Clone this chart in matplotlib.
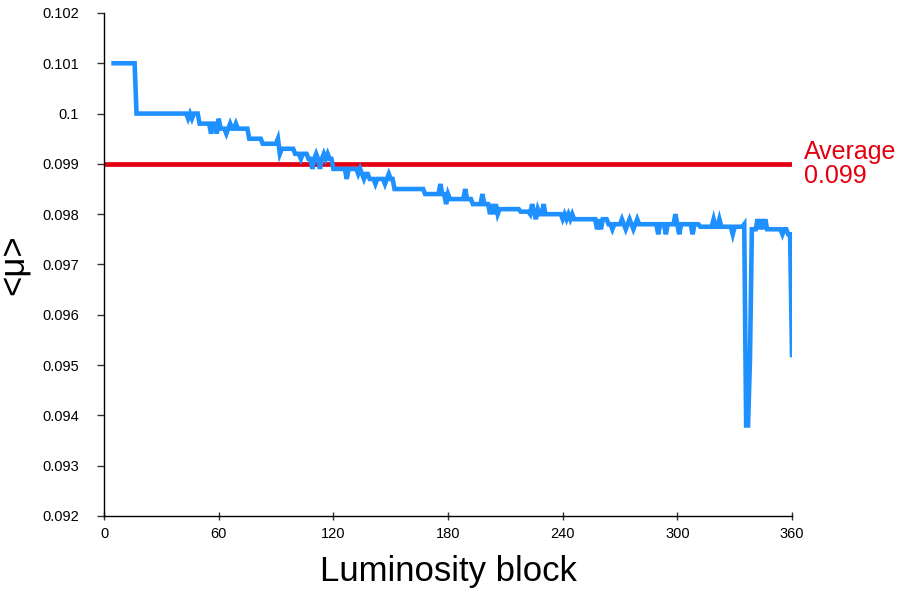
import matplotlib.pyplot as plt
import matplotlib.transforms as mtransforms
import numpy as np

plt.rcParams['font.family'] = ['Liberation Sans', 'DejaVu Sans']

# step levels of <mu> per luminosity block: (first block of the level, value)
level_start = [5, 17, 50, 61, 76, 83, 93, 100, 107, 120, 133, 139, 152, 168, 181,
               193, 207, 218, 228, 246, 264, 312, 339, 358, 360]
level_value = [0.1010, 0.1000, 0.0998, 0.0997, 0.0995, 0.0994, 0.0993, 0.0992, 0.0991,
               0.0989, 0.0988, 0.0987, 0.0985, 0.0984, 0.0983, 0.0982, 0.0981, 0.09805,
               0.0980, 0.0979, 0.0978, 0.09775, 0.0977, 0.0976, 0.0952]

# single blocks that stick out of their level
spike_block = [44, 46, 56, 59, 60, 64, 66, 69, 91, 92, 103, 109, 111, 113, 115, 117,
               127, 134, 136, 142, 147, 149, 176, 179, 189, 198, 202, 204, 206,
               223, 224, 226, 227, 230, 240, 242, 244, 258, 260, 266, 271, 273,
               275, 277, 279, 290, 292, 294, 296, 299, 301, 308, 319, 322, 329,
               335, 336, 337, 338, 342, 344, 346, 355]
spike_value = [0.0999, 0.0999, 0.0996, 0.0996, 0.0999, 0.0996, 0.0998, 0.0998, 0.0995,
               0.0992, 0.0991, 0.0989, 0.0992, 0.0989, 0.0992, 0.0992,
               0.0987, 0.0989, 0.0987, 0.0986, 0.0986, 0.0988, 0.0986, 0.0982, 0.0985,
               0.0984, 0.0980, 0.0980, 0.0980,
               0.0980, 0.0982, 0.0979, 0.0981, 0.0982, 0.0979, 0.0979, 0.0979, 0.0977,
               0.0977, 0.0977, 0.0979, 0.0977, 0.0979, 0.0977, 0.0979, 0.0976, 0.0978,
               0.0976, 0.0978, 0.0980, 0.0976, 0.0976, 0.0979, 0.0979, 0.0976,
               0.0978, 0.0938, 0.0938, 0.0951, 0.0979, 0.0979, 0.0979, 0.0976]

average = 0.099
x_ticks = [0, 60, 120, 180, 240, 300, 360]
y_ticks = [0.092, 0.093, 0.094, 0.095, 0.096, 0.097, 0.098, 0.099, 0.1, 0.101, 0.102]
y_tick_labels = ['0.092', '0.093', '0.094', '0.095', '0.096', '0.097', '0.098',
                 '0.099', '0.1', '0.101', '0.102']

# expand the levels into one value per block
blocks = np.arange(level_start[0], level_start[-1] + 1)
mu = np.empty(len(blocks))
for i, s in enumerate(level_start):
    mu[blocks >= s] = level_value[i]
for b, v in zip(spike_block, spike_value):
    mu[blocks == b] = v

fig = plt.figure(figsize=(9, 5.92), dpi=100)
ax = fig.add_axes([0.1156, 0.1284, 0.7644, 0.8497])

ax.axhline(average, color='#E3000F', lw=3.4, zorder=2)
ax.plot(blocks, mu, color='#1E90FF', lw=3.3, solid_joinstyle='miter', zorder=3)

ax.set_xlim(0, 360)
ax.set_ylim(0.092, 0.102)
ax.set_xticks(x_ticks)
ax.set_yticks(y_ticks)
ax.set_yticklabels(y_tick_labels)
ax.tick_params(axis='both', labelsize=10.5, length=5, width=1, color='#333333')
ax.tick_params(axis='x', direction='inout', length=6, pad=5)
ax.tick_params(axis='y', direction='out', pad=13)

for side in ['top', 'right']:
    ax.spines[side].set_visible(False)
for side in ['left', 'bottom']:
    ax.spines[side].set_linewidth(1)

ax.set_xlabel('Luminosity block', fontsize=25, labelpad=10)
ax.set_ylabel('<μ>', fontsize=25, labelpad=8)

trans = mtransforms.blended_transform_factory(ax.transAxes, ax.transData)
ax.text(1.018, average, 'Average\n0.099', color='#E3000F', fontsize=18,
        ha='left', va='center', transform=trans, linespacing=1.0)

fig.savefig('out.png', dpi=100)
